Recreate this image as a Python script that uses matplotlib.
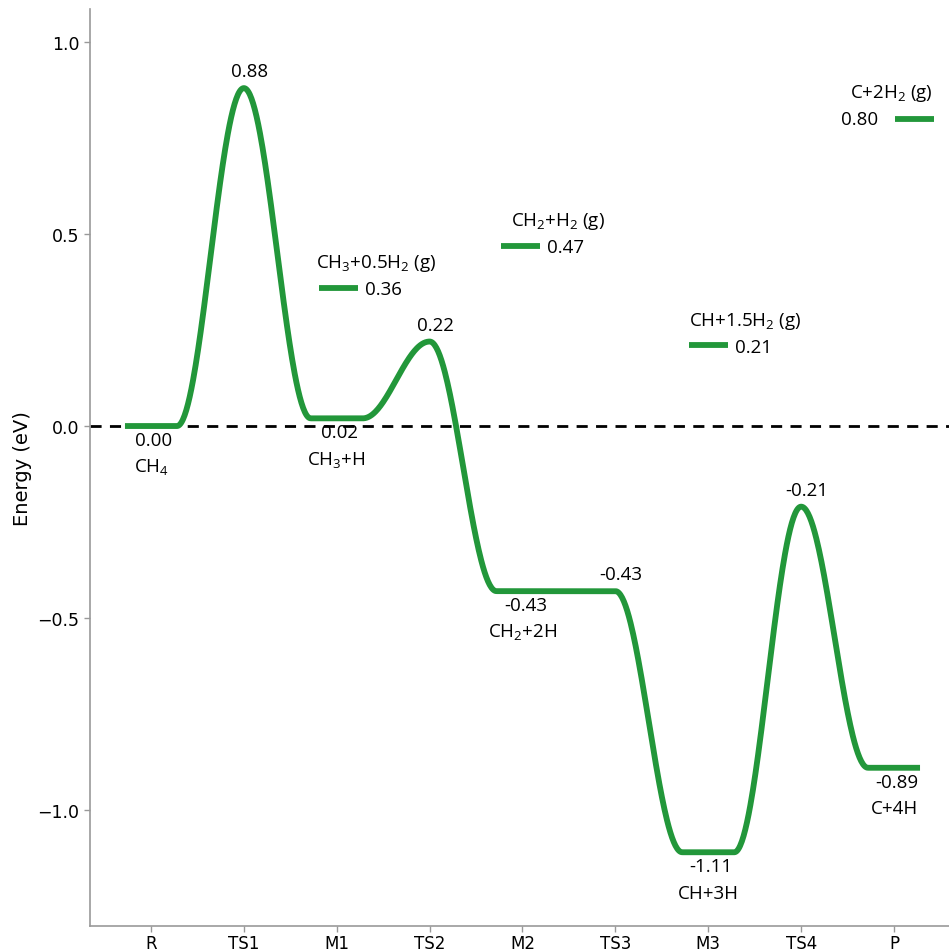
import numpy as np
import matplotlib
matplotlib.use("Agg")
import matplotlib.pyplot as plt

plt.rcParams['mathtext.fontset'] = 'custom'
plt.rcParams['mathtext.rm'] = 'Open Sans'
plt.rcParams['mathtext.it'] = 'Open Sans:italic'

# Reaction pathway data
states = ['R', 'TS1', 'M1', 'TS2', 'M2', 'TS3', 'M3', 'TS4', 'P']
energies = [0.00, 0.88, 0.02, 0.22, -0.43, -0.43, -1.11, -0.21, -0.89]
is_ts = [False, True, False, True, False, True, False, True, False]
species = [r'$\mathregular{CH_4}$', '', r'$\mathregular{CH_3}$+H', '',
           r'$\mathregular{CH_2}$+2H', '', 'CH+3H', '', 'C+4H']

# Gas-phase reference levels
gas_labels = [r'$\mathregular{CH_3}$+0.5$\mathregular{H_2}$ (g)',
              r'$\mathregular{CH_2}$+$\mathregular{H_2}$ (g)',
              r'CH+1.5$\mathregular{H_2}$ (g)',
              r'C+2$\mathregular{H_2}$ (g)']
gas_energies = [0.36, 0.47, 0.21, 0.80]

green = '#22973a'
ann_font = 'Open Sans'
ann_size = 13.5

fig = plt.figure(figsize=(9.49, 9.53), dpi=100)
ax = fig.add_axes([0.0948, 0.0273, 0.905, 0.9622])

# Build the smooth profile: flat plateaus at minima, cosine easing between nodes
w = 0.28
nodes_x, nodes_y = [], []
for i, (e, ts) in enumerate(zip(energies, is_ts)):
    if ts:
        nodes_x.append(i); nodes_y.append(e)
    else:
        nodes_x += [i - w, i + w]; nodes_y += [e, e]

xs, ys = [], []
for k in range(len(nodes_x) - 1):
    x0, x1 = nodes_x[k], nodes_x[k + 1]
    y0, y1 = nodes_y[k], nodes_y[k + 1]
    t = np.linspace(0, 1, 80)
    xs.append(x0 + (x1 - x0) * t)
    ys.append(y0 + (y1 - y0) * (1 - np.cos(np.pi * t)) / 2)
xs = np.concatenate(xs); ys = np.concatenate(ys)

ax.axhline(0, color='black', linestyle='--', linewidth=2, dashes=(4, 3), zorder=1)
ax.plot(xs, ys, color=green, linewidth=4.2, solid_capstyle='butt', zorder=2)

# Energy and species labels
for i, (e, ts, sp) in enumerate(zip(energies, is_ts, species)):
    if ts:
        ax.annotate(f'{e:.2f}', (i, e), xytext=(4, 12), textcoords='offset points',
                    ha='center', va='center', fontsize=ann_size, family=ann_font)
    else:
        ax.annotate(f'{e:.2f}', (i, e), xytext=(2, -10), textcoords='offset points',
                    ha='center', va='center', fontsize=ann_size, family=ann_font)
        ax.annotate(sp, (i, e), xytext=(0, -29), textcoords='offset points',
                    ha='center', va='center', fontsize=ann_size, family=ann_font)

# Gas-phase levels: short bars with titles and values
gas_x = [2.02, 3.98, 6.0, 8.22]
half = 0.21
for k, (lab, e, gx) in enumerate(zip(gas_labels, gas_energies, gas_x)):
    ax.plot([gx - half, gx + half], [e, e], color=green, linewidth=4.2,
            solid_capstyle='butt', zorder=2)
    if k < 3:
        ax.annotate(f'{e:.2f}', (gx + half, e), xytext=(5, -1), textcoords='offset points',
                    ha='left', va='center', fontsize=ann_size, family=ann_font)
        ax.annotate(lab, (gx + 0.4, e), xytext=(0, 18), textcoords='offset points',
                    ha='center', va='center', fontsize=ann_size, family=ann_font)
    else:
        ax.annotate(f'{e:.2f}', (gx - half, e), xytext=(-12, 0), textcoords='offset points',
                    ha='right', va='center', fontsize=ann_size, family=ann_font)
        ax.annotate(lab, (gx - 0.25, e), xytext=(0, 19), textcoords='offset points',
                    ha='center', va='center', fontsize=ann_size, family=ann_font)

ax.set_xlim(-0.657, 8.59)
ax.set_ylim(-1.302, 1.086)
ax.set_xticks(range(len(states)))
ax.set_xticklabels(states, fontsize=12)
ax.set_yticks([-1.0, -0.5, 0.0, 0.5, 1.0])
ax.set_yticklabels(['\u22121.0', '\u22120.5', '0.0', '0.5', '1.0'], fontsize=12.5)
ax.set_ylabel('Energy (eV)', fontsize=14, labelpad=4)

for s in ['top', 'right']:
    ax.spines[s].set_visible(False)
for s in ['left', 'bottom']:
    ax.spines[s].set_color('#999999')
    ax.spines[s].set_linewidth(1.2)
ax.tick_params(colors='#999999', length=4, width=1)
ax.tick_params(axis='x', pad=2)
for lab in ax.get_xticklabels() + ax.get_yticklabels():
    lab.set_color('black')

fig.savefig('out.png', dpi=100)
